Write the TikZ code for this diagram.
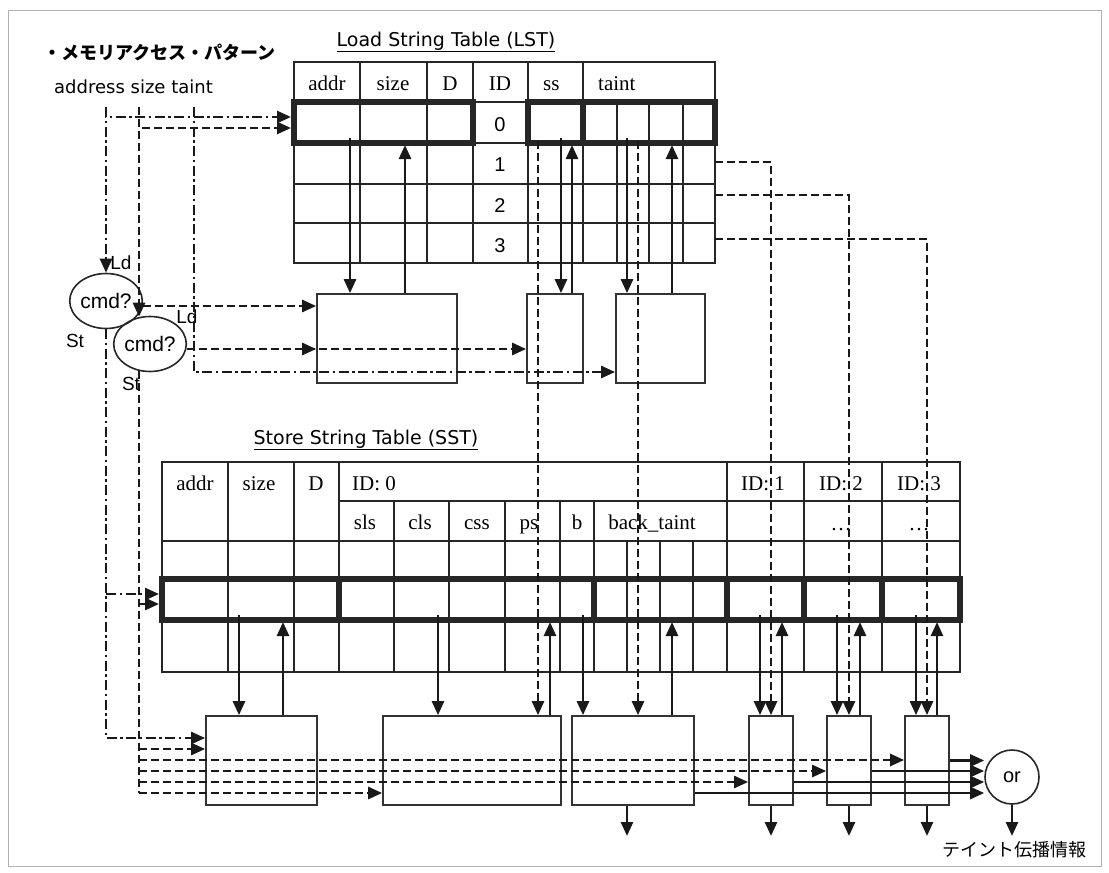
\documentclass[tikz,border=0pt]{standalone}
\usepackage{fontspec}
\setmainfont{Liberation Serif}
\setsansfont{Liberation Sans}
\newfontfamily\jpfont{Noto Sans CJK JP}
\newfontfamily\gtfont{DejaVu Sans}
\usetikzlibrary{arrows.meta,shapes.geometric}

\tikzset{
  cell/.style={draw=black!85, line width=1.8pt},
  keyrow/.style={draw=black!85, line width=6pt, inner sep=0pt},
  blk/.style={draw=black!80, line width=1.7pt, minimum height=89pt, inner sep=0pt},
  cmd/.style={ellipse, draw=black!85, line width=1.6pt, minimum width=66pt, minimum height=55pt, inner sep=0pt, font=\sffamily\fontsize{21}{23}\selectfont},
  ln/.style={line width=2.6pt, draw=black!90},
  dsh/.style={ln, dash pattern=on 8pt off 4pt},
  dd/.style={ln, dash pattern=on 10pt off 3.5pt on 2.5pt off 3.5pt},
  hd/.style={inner sep=0pt, anchor=base, font=\fontsize{21}{23}\selectfont},
  sf/.style={inner sep=0pt, anchor=base, font=\sffamily\fontsize{20}{22}\selectfont},
  lbl/.style={inner sep=0pt, anchor=base, font=\sffamily\fontsize{19}{21}\selectfont},
  ttl/.style={inner sep=1pt, font=\gtfont\fontsize{19}{21}\selectfont},
  jp/.style={inner sep=1pt, font=\jpfont\fontsize{17}{19}\selectfont},
}

\begin{document}
\begin{tikzpicture}[x=1pt, y=-1pt, >={Triangle[length=14pt,width=12pt]}]
  \useasboundingbox (0,0) rectangle (1109,873);
  \draw[gray!60, line width=1pt] (8,10) rectangle (1101,866);

  % headings
  \node[jp, font=\jpfont\bfseries\fontsize{18}{20}\selectfont, anchor=west] (pat) at (42,52) {・メモリアクセス・パターン};
  \node[ttl, font=\gtfont\fontsize{18}{20}\selectfont, anchor=west] (fld) at (53,87) {address size taint};
  \node[ttl] (ltitle) at (446,42) {\underline{Load String Table (LST)}};
  \node[ttl] (stitle) at (366,440) {\underline{Store String Table (SST)}};
  \node[jp, font=\jpfont\fontsize{18}{20}\selectfont] (res) at (1014,850) {テイント伝播情報};

  % LST
  \draw[cell] (294,62) rectangle (715,263);
  \foreach \y in {102,143,184,223} \draw[cell] (294,\y) -- (715,\y);
  \foreach \x in {360,427,473,528,583} \draw[cell] (\x,62) -- (\x,263);
  \foreach \x in {617,649,683} \draw[cell] (\x,102) -- (\x,263);
  \node[keyrow, minimum width=179pt, minimum height=41pt] (lkey) at (383.5,122.5) {};
  \draw[keyrow] (528,102) rectangle (583,143) (583,102) rectangle (715,143);
  \foreach \t/\x [count=\i] in {addr/327,size/393,D/450,ID/500}
    \node[hd] (lh\i) at (\x,90) {\t};
  \node[hd, anchor=base west] (lh5) at (543,90) {ss};
  \node[hd, anchor=base west] (lh6) at (598,90) {taint};
  \foreach \n/\y in {0/131,1/171,2/212,3/252}
    \node[sf] (lid\n) at (500,\y) {\n};

  % SST
  \draw[cell] (162,462) rectangle (960,672);
  \draw[cell] (339,501) -- (960,501);
  \foreach \y in {541,579,620} \draw[cell] (162,\y) -- (960,\y);
  \foreach \x in {228,294,339,727,804,882} \draw[cell] (\x,462) -- (\x,672);
  \foreach \x in {394,449,505,560,594} \draw[cell] (\x,501) -- (\x,672);
  \foreach \x in {627,660,693} \draw[cell] (\x,541) -- (\x,672);
  \node[keyrow, minimum width=177pt, minimum height=41pt] (skey) at (250.5,599.5) {};
  \foreach \a/\b in {339/594,594/727,727/804,804/882,882/960}
    \draw[keyrow] (\a,579) rectangle (\b,620);
  \foreach \t/\x [count=\i] in {addr/195,size/259,D/316,ID: 1/763,ID: 2/841,ID: 3/919}
    \node[hd] (sh\i) at (\x,490) {\t};
  \node[hd, anchor=base west] (sh0) at (352,490) {ID: 0};
  \foreach \t/\x [count=\i] in {sls/365,cls/420,css/477,ps/529,b/577,back\_taint/652}
    \node[hd] (ss\i) at (\x,529) {\t};
  \node[hd] (sd1) at (841,530) {\dots};
  \node[hd] (sd2) at (919,530) {\dots};

  % units
  \node[blk, minimum width=140pt] (la) at (387,338.5) {};
  \node[blk, minimum width=56pt] (lb) at (555,338.5) {};
  \node[blk, minimum width=89pt] (lc) at (660.5,338.5) {};
  \node[blk, minimum width=111pt] (bl) at (261.5,760.5) {};
  \node[blk, minimum width=178pt] (bm) at (472,760.5) {};
  \node[blk, minimum width=122pt] (bd) at (633,760.5) {};
  \node[blk, minimum width=44pt] (be) at (771,760.5) {};
  \node[blk, minimum width=44pt] (bf) at (849,760.5) {};
  \node[blk, minimum width=44pt] (bg) at (927,760.5) {};
  \node[circle, draw=black!85, line width=1.6pt, minimum size=54pt, inner sep=0pt, font=\sffamily\fontsize{20}{22}\selectfont] (or) at (1012,777) {or};

  % command decoders
  \node[cmd] (c1) at (106,301) {cmd?};
  \node[cmd] (c2) at (150,344) {cmd?};
  \node[lbl] (ld1) at (121,269) {Ld};
  \node[lbl] (st1) at (75,347) {St};
  \node[lbl] (ld2) at (187,323) {Ld};
  \node[lbl] (st2) at (131,390) {St};

  % access pattern inputs
  \coordinate (a0) at (106,107);
  \coordinate (s0) at (139,107);
  \coordinate (t0) at (194,107);
  \draw[dd,->] (a0) -- (c1.north);
  \draw[dd,->] (a0) |- ([yshift=5.5pt]lkey.west);
  \draw[dsh,->] (s0) |- ([yshift=-5.5pt]lkey.west);
  \draw[dsh,->] (s0) -- (s0 |- c2.110);
  \draw[dd,->] (t0) |- ([yshift=-33.5pt]lc.west);
  \path ([yshift=-5pt]c1.east) coordinate (p1);
  \draw[dsh,->] (p1) -- (p1 -| la.west);
  \path ([yshift=-5pt]c2.east) coordinate (p2);
  \draw[dsh,->] (p2) -- (p2 -| la.west);
  \draw[dsh,->] (p2) -- (p2 -| lb.west);

  % store side
  \coordinate (a1) at (106,594);
  \draw[dd,->] (c1.south) |- ([yshift=22.5pt]bl.west);
  \draw[dd,->] (a1) -- (a1 -| skey.west);
  \coordinate (s1) at (139,604);
  \coordinate (s2) at (139,749);
  \coordinate (s3) at (139,760);
  \coordinate (s4) at (139,771);
  \coordinate (s5) at (139,782);
  \coordinate (s6) at (139,793);
  \draw[dsh] (s0 |- c2.250) -- (s6);
  \draw[dsh,->] (s1) -- (s1 -| skey.west);
  \draw[dsh,->] (s2) -- (s2 -| bl.west);
  \draw[dsh,->] (s3) -- (s3 -| bg.west);
  \draw[dsh,->] (s4) -- (s4 -| bf.west);
  \draw[dsh,->] (s5) -- (s5 -| be.west);
  \draw[dsh,->] (s6) -- (s6 -| bm.west);

  % LST read / write
  \foreach \x/\b in {350/la,561/lb,627/lc} {
    \coordinate (d) at (\x,138);
    \draw[ln,->] (d) -- (d |- \b.north);
  }
  \foreach \x/\b in {405/la,572/lb,672/lc} {
    \coordinate (u) at (\x,145);
    \draw[ln,->] (u |- \b.north) -- (u);
  }
  \coordinate (k1) at (538,141);
  \coordinate (k2) at (638,141);
  \draw[dsh,->] (k1) -- (k1 |- bm.north);
  \draw[dsh,->] (k2) -- (k2 |- bd.north);
  \coordinate (r1) at (715,162);
  \coordinate (r2) at (715,195);
  \coordinate (r3) at (715,239);
  \draw[dsh,->] (r1) -| (be.north);
  \draw[dsh,->] (r2) -| (bf.north);
  \draw[dsh,->] (r3) -| (bg.north);

  % SST read / write
  \foreach \x/\b in {239/bl,438/bm,583/bd,760/be,837/bf,916/bg} {
    \coordinate (d) at (\x,615);
    \draw[ln,->] (d) -- (d |- \b.north);
  }
  \foreach \x/\b in {283/bl,550/bm,672/bd,782/be,860/bf,937/bg} {
    \coordinate (u) at (\x,622);
    \draw[ln,->] (u |- \b.north) -- (u);
  }

  % outputs
  \foreach \b/\s in {bd/-32.5,be/-21.5,bf/-10.5,bg/0} {
    \path ([yshift=\s pt]\b.east) coordinate (o);
    \draw[ln,->] (o) -- (o -| or.west);
  }
  \coordinate (outy) at (0,836);
  \draw[ln,->] ([xshift=-6pt]bd.south) -- ([xshift=-6pt]bd.south |- outy);
  \foreach \b in {be,bf,bg,or}
    \draw[ln,->] (\b.south) -- (\b.south |- outy);
\end{tikzpicture}
\end{document}
